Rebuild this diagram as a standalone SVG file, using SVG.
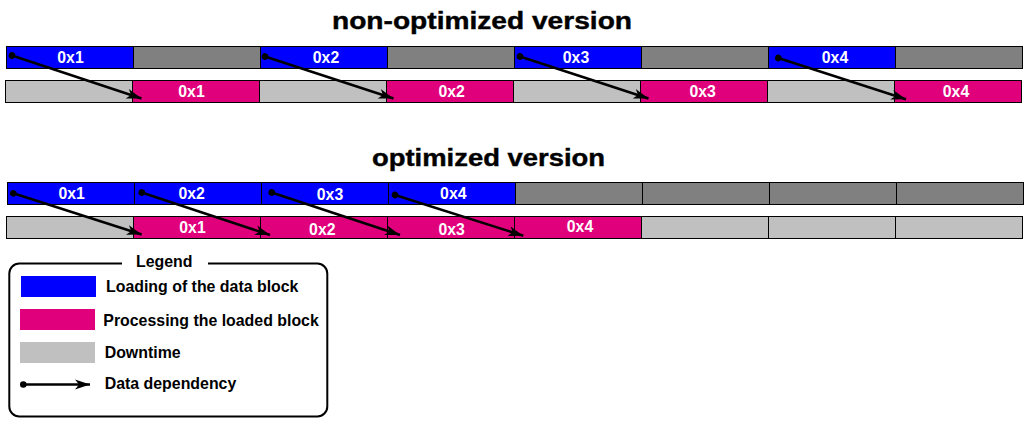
<svg xmlns="http://www.w3.org/2000/svg" width="1033" height="429" viewBox="0 0 1033 429">
<style>
  .t { font-family: "Liberation Sans", Arial, sans-serif; font-weight: bold; }
  .title { font-size: 23px; fill: #000; stroke: #000; stroke-width: 0.4; }
  .lbl { font-size: 15.8px; fill: #fff; text-anchor: middle; }
  .lg { font-size: 15.9px; fill: #000; }
  .load { fill: #0000FF; stroke: #000; stroke-width: 1; }
  .proc { fill: #E0007C; stroke: #000; stroke-width: 1; }
  .idle { fill: #808080; stroke: #000; stroke-width: 1; }
  .down { fill: #C0C0C0; stroke: #000; stroke-width: 1; }
  .dep { stroke: #000; stroke-width: 2.5; fill: none; marker-start: url(#dot); marker-end: url(#head); }
</style>
<defs>
  <marker id="head" markerUnits="userSpaceOnUse" viewBox="-16 -7 18 14" refX="0" refY="0" markerWidth="18" markerHeight="14" orient="auto">
    <path d="M-15,-5 L0,0 L-15,5 L-11,0 Z" fill="#000"/>
  </marker>
  <marker id="dot" markerUnits="userSpaceOnUse" viewBox="-4 -4 8 8" refX="0" refY="0" markerWidth="8" markerHeight="8" orient="auto">
    <circle cx="0" cy="0" r="3.3" fill="#000"/>
  </marker>
</defs>
<rect width="1033" height="429" fill="#fff"/>

<text class="t title" x="332" y="28.5" textLength="300" lengthAdjust="spacingAndGlyphs">non-optimized version</text>
<text class="t title" x="372" y="166" textLength="233" lengthAdjust="spacingAndGlyphs">optimized version</text>

<!-- non-optimized: load row -->
<g id="nonopt-load">
  <rect class="load" x="6.5" y="46.5" width="127" height="22"/>
  <rect class="idle" x="133.5" y="46.5" width="127" height="22"/>
  <rect class="load" x="260.5" y="46.5" width="127" height="22"/>
  <rect class="idle" x="387.5" y="46.5" width="127" height="22"/>
  <rect class="load" x="514.5" y="46.5" width="127" height="22"/>
  <rect class="idle" x="641.5" y="46.5" width="127" height="22"/>
  <rect class="load" x="768.5" y="46.5" width="127" height="22"/>
  <rect class="idle" x="895.5" y="46.5" width="127" height="22"/>
  <text class="t lbl" x="70.5" y="63">0x1</text>
  <text class="t lbl" x="326" y="63">0x2</text>
  <text class="t lbl" x="576" y="63">0x3</text>
  <text class="t lbl" x="835" y="63">0x4</text>
</g>
<!-- non-optimized: process row -->
<g id="nonopt-proc">
  <rect class="down" x="5.5" y="80.5" width="127" height="22"/>
  <rect class="proc" x="132.5" y="80.5" width="127" height="22"/>
  <rect class="down" x="259.5" y="80.5" width="127" height="22"/>
  <rect class="proc" x="386.5" y="80.5" width="127" height="22"/>
  <rect class="down" x="513.5" y="80.5" width="127" height="22"/>
  <rect class="proc" x="640.5" y="80.5" width="127" height="22"/>
  <rect class="down" x="767.5" y="80.5" width="127" height="22"/>
  <rect class="proc" x="894.5" y="80.5" width="127" height="22"/>
  <text class="t lbl" x="191.5" y="97.3">0x1</text>
  <text class="t lbl" x="451.7" y="97.3">0x2</text>
  <text class="t lbl" x="702.7" y="97.3">0x3</text>
  <text class="t lbl" x="956" y="97.3">0x4</text>
</g>

<!-- optimized: load row -->
<g id="opt-load">
  <rect class="load" x="7.5" y="182.5" width="127" height="22"/>
  <rect class="load" x="134.5" y="182.5" width="127" height="22"/>
  <rect class="load" x="261.5" y="182.5" width="127" height="22"/>
  <rect class="load" x="388.5" y="182.5" width="127" height="22"/>
  <rect class="idle" x="515.5" y="182.5" width="127" height="22"/>
  <rect class="idle" x="642.5" y="182.5" width="127" height="22"/>
  <rect class="idle" x="769.5" y="182.5" width="127" height="22"/>
  <rect class="idle" x="896.5" y="182.5" width="127" height="22"/>
  <text class="t lbl" x="71.7" y="199">0x1</text>
  <text class="t lbl" x="191.7" y="199">0x2</text>
  <text class="t lbl" x="330" y="200.3">0x3</text>
  <text class="t lbl" x="453.3" y="198.5">0x4</text>
</g>
<!-- optimized: process row -->
<g id="opt-proc">
  <rect class="down" x="6.5" y="216.5" width="127" height="22"/>
  <rect class="proc" x="133.5" y="216.5" width="127" height="22"/>
  <rect class="proc" x="260.5" y="216.5" width="127" height="22"/>
  <rect class="proc" x="387.5" y="216.5" width="127" height="22"/>
  <rect class="proc" x="514.5" y="216.5" width="127" height="22"/>
  <rect class="down" x="641.5" y="216.5" width="127" height="22"/>
  <rect class="down" x="768.5" y="216.5" width="127" height="22"/>
  <rect class="down" x="895.5" y="216.5" width="127" height="22"/>
  <text class="t lbl" x="192.5" y="232.5">0x1</text>
  <text class="t lbl" x="322.3" y="234.5">0x2</text>
  <text class="t lbl" x="451.7" y="234.5">0x3</text>
  <text class="t lbl" x="580" y="232">0x4</text>
</g>

<g id="connectors">
  <line class="dep" x1="12" y1="55.5" x2="141.5" y2="98.5"/>
  <line class="dep" x1="265" y1="56.5" x2="393.5" y2="98.5"/>
  <line class="dep" x1="520" y1="56.5" x2="648.5" y2="98.5"/>
  <line class="dep" x1="778.3" y1="58" x2="906" y2="99.3"/>
  <line class="dep" x1="13.3" y1="193.3" x2="141.7" y2="234.5"/>
  <line class="dep" x1="141.7" y1="192.5" x2="270" y2="235"/>
  <line class="dep" x1="271.7" y1="192.5" x2="400" y2="235"/>
  <line class="dep" x1="395" y1="195" x2="523.3" y2="235.7"/>
</g>

<g id="legend">
  <rect x="9.3" y="263.5" width="318" height="153" rx="10" ry="10" fill="none" stroke="#000" stroke-width="2"/>
  <rect x="122" y="258" width="86" height="10" fill="#fff"/>
  <text class="t lg" x="136" y="266.5">Legend</text>
  <rect x="21" y="276" width="75" height="21" fill="#0000FF"/>
  <text class="t lg" x="106" y="291.7">Loading of the data block</text>
  <rect x="20" y="309" width="75" height="21" fill="#E0007C"/>
  <text class="t lg" x="103.3" y="326">Processing the loaded block</text>
  <rect x="20" y="342" width="75" height="21" fill="#C0C0C0"/>
  <text class="t lg" x="104.7" y="357.7">Downtime</text>
  <line class="dep" x1="23.3" y1="384.5" x2="90" y2="384.5"/>
  <text class="t lg" x="104.7" y="389.3">Data dependency</text>
</g>
</svg>
